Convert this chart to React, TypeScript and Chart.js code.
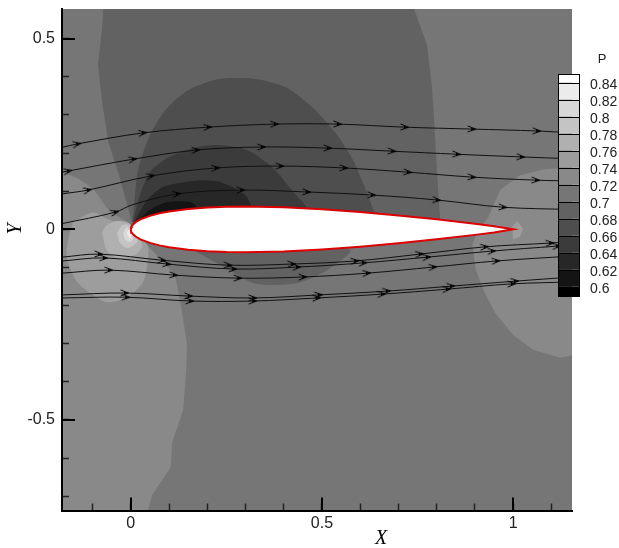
import React, { useEffect, useRef } from "react";
import { Chart, registerables } from "chart.js";

Chart.register(...registerables);

type Pt = number[];

const xRange = [-0.18, 1.154];
const yRange = [-0.7375, 0.578];
const xMajor = [0, 0.5, 1];
const yMajor = [-0.5, 0, 0.5];

const legendLevels = ["0.84", "0.82", "0.8", "0.78", "0.76", "0.74", "0.72", "0.7", "0.68", "0.66", "0.64", "0.62", "0.6"];
const bandGrays = [255, 235, 216, 196, 176, 157, 137, 118, 98, 78, 59, 39, 20, 0];

const regionBase: Pt[] = [[-0.18, 0.578], [1.154, 0.578], [1.154, -0.7375], [-0.18, -0.7375]];
const regionTop70: Pt[] = [[-0.072, 0.578], [-0.075, 0.528], [-0.086, 0.431], [-0.075, 0.334], [-0.059, 0.229], [-0.033, 0.15], [0.003, 0.019], [0.001, 0.001], [0.814, 0.009], [0.809, 0.03], [0.801, 0.15], [0.796, 0.239], [0.788, 0.371], [0.775, 0.483], [0.741, 0.578]];
const regionDome68: Pt[] = [[0.003, 0.019], [0.006, 0.038], [0.019, 0.156], [0.05, 0.247], [0.095, 0.318], [0.15, 0.365], [0.228, 0.394], [0.33, 0.394], [0.409, 0.371], [0.477, 0.318], [0.54, 0.247], [0.581, 0.182], [0.613, 0.108], [0.639, 0.038], [0.647, 0.009]];
const regionDome66: Pt[] = [[0.006, 0.019], [0.024, 0.09], [0.05, 0.15], [0.095, 0.187], [0.163, 0.213], [0.226, 0.221], [0.304, 0.208], [0.372, 0.161], [0.425, 0.098], [0.461, 0.056], [0.469, 0.009]];
const regionDome64: Pt[] = [[0.009, 0.019], [0.043, 0.077], [0.084, 0.111], [0.163, 0.127], [0.234, 0.124], [0.299, 0.09], [0.317, 0.056], [0.323, 0.009]];
const regionDome62: Pt[] = [[0.014, 0.019], [0.05, 0.051], [0.095, 0.072], [0.155, 0.072], [0.173, 0.058], [0.179, 0.009]];
const regionUnder70: Pt[] = [[0.163, -0.054], [0.247, -0.101], [0.312, -0.138], [0.357, -0.146], [0.435, -0.141], [0.513, -0.107], [0.574, -0.054], [0.364, -0.028]];
const regionLeft74: Pt[] = [[-0.18, 0.15], [-0.14, 0.135], [-0.099, 0.108], [-0.054, 0.045], [-0.007, 0.019], [0.006, -0.007], [0.043, -0.041], [0.116, -0.12], [0.134, -0.217], [0.147, -0.303], [0.145, -0.369], [0.137, -0.474], [0.108, -0.56], [0.105, -0.623], [0.056, -0.697], [0.045, -0.7375], [-0.18, -0.7375]];
const regionNose76: Pt[] = [[-0.151, 0.019], [-0.099, 0.045], [-0.067, 0.03], [-0.033, 0.017], [-0.007, 0.009], [0.043, -0.041], [0.045, -0.075], [0.032, -0.138], [-0.01, -0.178], [-0.062, -0.191], [-0.099, -0.172], [-0.14, -0.138], [-0.167, -0.075], [-0.164, -0.028]];
const regionNose78: Pt[] = [[-0.075, -0.01], [-0.065, 0.009], [-0.036, 0.022], [-0.002, 0.014], [0.03, -0.041], [0.014, -0.065], [-0.033, -0.075], [-0.062, -0.057]];
const regionNose80: Pt[] = [[-0.036, -0.01], [-0.023, 0.011], [-0.002, 0.009], [0.019, -0.028], [-0.007, -0.049], [-0.028, -0.036]];
const regionNose82: Pt[] = [[-0.02, -0.01], [-0.01, 0.006], [0.006, -0.02], [-0.002, -0.033], [-0.015, -0.025]];
const regionNose84: Pt[] = [[-0.01, -0.01], [-0.007, -0.002], [0.003, -0.01], [-0.002, -0.023]];
const regionTail74: Pt[] = [[1.154, 0.161], [1.084, 0.158], [1.018, 0.142], [0.966, 0.103], [0.935, 0.032], [0.906, -0.007], [0.893, -0.041], [0.903, -0.107], [0.922, -0.159], [0.953, -0.219], [1.0, -0.277], [1.052, -0.316], [1.123, -0.337], [1.154, -0.33]];
const regionTail76: Pt[] = [[0.997, 0.006], [1.01, 0.022], [1.026, 0.003], [1.018, -0.02], [1.0, -0.025]];

const contourLayers: [Pt[], number, number][] = [
  [regionBase, 7, 0], [regionTop70, 8, 0], [regionDome68, 9, 0.25], [regionDome66, 10, 0.25], [regionDome64, 11, 0.25], [regionDome62, 12, 0.25],
  [regionUnder70, 8, 0.25], [regionLeft74, 6, 0], [regionNose76, 5, 0.3], [regionNose78, 4, 0.3], [regionNose80, 3, 0.3], [regionNose82, 2, 0.3], [regionNose84, 1, 0.3],
  [regionTail74, 6, 0], [regionTail76, 5, 0],
];

const airfoilX = [0, 0.001, 0.0025, 0.005, 0.0125, 0.025, 0.05, 0.075, 0.1, 0.15, 0.2, 0.25, 0.3, 0.4, 0.5, 0.6, 0.7, 0.8, 0.9, 0.95, 1];
const airfoilT = [0, 0.0056, 0.0087, 0.0122, 0.0189, 0.0262, 0.0356, 0.042, 0.0468, 0.0535, 0.0574, 0.0594, 0.06, 0.058, 0.0529, 0.0456, 0.0366, 0.0262, 0.0145, 0.0081, 0];

// third element 0 = plain vertex with no arrowhead
const streamA: Pt[] = [[-0.18, 0.215], [-0.14, 0.224], [0.032, 0.253], [0.202, 0.268], [0.377, 0.276], [0.542, 0.276], [0.717, 0.268], [0.893, 0.263], [1.063, 0.258], [1.154, 0.253]];
const streamB: Pt[] = [[-0.18, 0.15], [-0.164, 0.153], [0.006, 0.184], [0.171, 0.208], [0.343, 0.216], [0.516, 0.213], [0.684, 0.205], [0.853, 0.197], [1.021, 0.19], [1.154, 0.185]];
const streamC: Pt[] = [[-0.18, 0.093], [-0.112, 0.103], [0.053, 0.14], [0.223, 0.161], [0.391, 0.166], [0.558, 0.161], [0.725, 0.15], [0.893, 0.137], [1.06, 0.129], [1.154, 0.127]];
const streamD: Pt[] = [[-0.18, 0.015], [-0.041, 0.045], [0.003, 0.064, 0], [0.121, 0.093], [0.289, 0.103], [0.461, 0.098], [0.631, 0.09], [0.801, 0.077], [0.974, 0.058], [1.154, 0.052]];
const streamE: Pt[] = [[-0.18, -0.073], [-0.083, -0.065], [0.082, -0.081], [0.255, -0.094], [0.422, -0.091], [0.587, -0.083], [0.756, -0.065], [0.926, -0.046], [1.097, -0.036], [1.154, -0.032]];
const streamF: Pt[] = [[-0.18, -0.083], [-0.07, -0.075], [0.095, -0.091], [0.268, -0.104], [0.435, -0.099], [0.608, -0.088], [0.775, -0.073], [0.945, -0.057], [1.115, -0.044], [1.154, -0.041]];
const streamG: Pt[] = [[-0.18, -0.115], [-0.057, -0.107], [0.113, -0.12], [0.281, -0.128], [0.451, -0.125], [0.618, -0.115], [0.791, -0.099], [0.956, -0.083], [1.154, -0.07]];
const streamH: Pt[] = [[-0.18, -0.172], [-0.015, -0.167], [0.152, -0.175], [0.32, -0.18], [0.492, -0.172], [0.67, -0.162], [0.838, -0.149], [1.005, -0.136], [1.154, -0.125]];
const streamI: Pt[] = [[-0.18, -0.18], [-0.012, -0.178], [0.155, -0.188], [0.32, -0.188], [0.487, -0.18], [0.657, -0.17], [0.827, -0.157], [0.997, -0.143], [1.154, -0.138]];
const streamlines = [streamA, streamB, streamC, streamD, streamE, streamF, streamG, streamH, streamI];

const grayOf = (v: number) => `rgb(${v},${v},${v})`;

const overlay = {
  id: "overlay",
  afterDraw(chart: any) {
    const { ctx, scales } = chart;
    const xs = scales.x;
    const ys = scales.y;
    ctx.save();
    ctx.strokeStyle = "#000";
    ctx.lineWidth = 2;
    ctx.beginPath();
    for (const v of xMajor) {
      const p = Math.round(xs.getPixelForValue(v));
      ctx.moveTo(p, xs.top);
      ctx.lineTo(p, xs.top - 13);
    }
    for (const v of yMajor) {
      const p = Math.round(ys.getPixelForValue(v));
      ctx.moveTo(ys.right, p);
      ctx.lineTo(ys.right + 13, p);
    }
    ctx.stroke();

    const barL = 558, barW = 22, barTop = 74, barBottom = 296, first = 82.7, step = 17;
    const edges = [barTop, ...legendLevels.map((_, i) => first + step * i), barBottom];
    bandGrays.forEach((g, i) => {
      ctx.fillStyle = grayOf(g);
      ctx.fillRect(barL, edges[i], barW, edges[i + 1] - edges[i]);
    });
    ctx.strokeStyle = "#000";
    ctx.lineWidth = 1;
    edges.forEach((e) => {
      ctx.beginPath();
      ctx.moveTo(barL, Math.round(e) + 0.5);
      ctx.lineTo(barL + barW, Math.round(e) + 0.5);
      ctx.stroke();
    });
    ctx.strokeRect(barL + 0.5, barTop + 0.5, barW - 1, barBottom - barTop - 1);

    ctx.fillStyle = "#222";
    ctx.textBaseline = "middle";
    ctx.textAlign = "left";
    ctx.font = "14px 'Liberation Sans'";
    legendLevels.forEach((t, i) => ctx.fillText(t, 590, first + step * i + 2.5));
    ctx.textAlign = "center";
    ctx.font = "13px 'Liberation Sans'";
    ctx.fillText("P", 602, 59);

    ctx.font = "italic 20px 'Liberation Serif'";
    ctx.fillStyle = "#000";
    ctx.fillText("X", 381, 539);
    ctx.save();
    ctx.translate(16, 229);
    ctx.rotate(-Math.PI / 2);
    ctx.fillText("Y", 0, 0);
    ctx.restore();
    ctx.restore();
  },
};

function chevron(): HTMLCanvasElement {
  const c = document.createElement("canvas");
  c.width = 12;
  c.height = 8;
  const g = c.getContext("2d")!;
  g.strokeStyle = "#000";
  g.lineWidth = 1;
  g.beginPath();
  g.moveTo(1.5, 1);
  g.lineTo(9.5, 4);
  g.lineTo(1.5, 7);
  g.stroke();
  g.fillStyle = "#000";
  g.beginPath();
  g.moveTo(5, 2.8);
  g.lineTo(9.5, 4);
  g.lineTo(5, 5.2);
  g.fill();
  return c;
}

const isMajor = (v: number) => Math.abs(v * 2 - Math.round(v * 2)) < 1e-6;
const zeroPadding = (s: any) => {
  s.paddingTop = 0;
  s.paddingBottom = 0;
  s.paddingLeft = 0;
  s.paddingRight = 0;
};

export default function App() {
  const ref = useRef<HTMLCanvasElement>(null);
  useEffect(() => {
    document.body.style.margin = "0";
    const arrow = chevron();
    const polys = contourLayers.map(([pts, band, tension]) => ({
      data: [...pts, pts[0]].map(([x, y]) => ({ x, y })),
      showLine: true,
      fill: "shape",
      borderWidth: 0,
      tension,
      pointRadius: 0,
      backgroundColor: grayOf(bandGrays[band]),
    }));
    const upper = airfoilX.map((x, i) => ({ x, y: airfoilT[i] }));
    const lower = airfoilX.map((x, i) => ({ x, y: -airfoilT[i] })).reverse();
    const foil = {
      data: [...upper, ...lower],
      showLine: true,
      fill: "shape",
      borderWidth: 2,
      borderColor: "#dc0000",
      backgroundColor: "#ffffff",
      tension: 0,
      pointRadius: 0,
    };
    const lines = streamlines.map((pts) => ({
      data: pts.map((p, i) => ({ x: p[0], y: p[1], arrow: i > 0 && i < pts.length - 1 && p[2] !== 0 })),
      showLine: true,
      fill: false,
      borderWidth: 1,
      borderColor: "#111",
      tension: 0.35,
      pointStyle: arrow,
      pointRadius: (c: any) => (c.raw && c.raw.arrow ? 4 : 0),
      pointRotation: (c: any) => {
        const d = c.dataset.data;
        const i = c.dataIndex;
        const a = d[Math.max(0, i - 1)];
        const b = d[Math.min(d.length - 1, i + 1)];
        if (!a || !b) return 0;
        return (-Math.atan2(b.y - a.y, b.x - a.x) * 180) / Math.PI;
      },
    }));
    const all = [...polys, foil, ...lines].map((d, i) => ({ ...d, order: -i }));
    const tickFont = { family: "'Liberation Sans'", size: 16 };
    const axisGrid = { drawOnChartArea: false, tickLength: -7, tickColor: "#222", tickWidth: 1.5, z: 1 };
    const chart = new Chart(ref.current!, {
      type: "scatter",
      data: { datasets: all as any },
      plugins: [overlay],
      options: {
        animation: false,
        responsive: false,
        events: [],
        layout: { autoPadding: false, padding: { top: 9, right: 47, left: 0, bottom: 0 } },
        plugins: { legend: { display: false }, tooltip: { enabled: false } },
        scales: {
          x: {
            type: "linear",
            min: xRange[0],
            max: xRange[1],
            grid: axisGrid,
            border: { color: "#000", width: 2, z: 2 },
            afterFit: (s: any) => { s.height = 37.5; zeroPadding(s); },
            ticks: {
              stepSize: 0.1,
              includeBounds: false,
              autoSkip: false,
              maxRotation: 0,
              padding: 10,
              color: "#222",
              font: tickFont,
              callback: (v: any) => (isMajor(Number(v)) ? String(Math.round(Number(v) * 10) / 10) : ""),
            },
          },
          y: {
            type: "linear",
            min: yRange[0],
            max: yRange[1],
            grid: axisGrid,
            border: { color: "#000", width: 2, z: 2 },
            afterFit: (s: any) => { s.width = 62; zeroPadding(s); },
            ticks: {
              stepSize: 0.1,
              includeBounds: false,
              autoSkip: false,
              padding: 14,
              color: "#222",
              font: tickFont,
              callback: (v: any) => (isMajor(Number(v)) ? String(Math.round(Number(v) * 10) / 10) : ""),
            },
          },
        },
      } as any,
    });
    return () => chart.destroy();
  }, []);
  return <canvas ref={ref} width={619} height={548} style={{ display: "block", width: 619, height: 548 }} />;
}
